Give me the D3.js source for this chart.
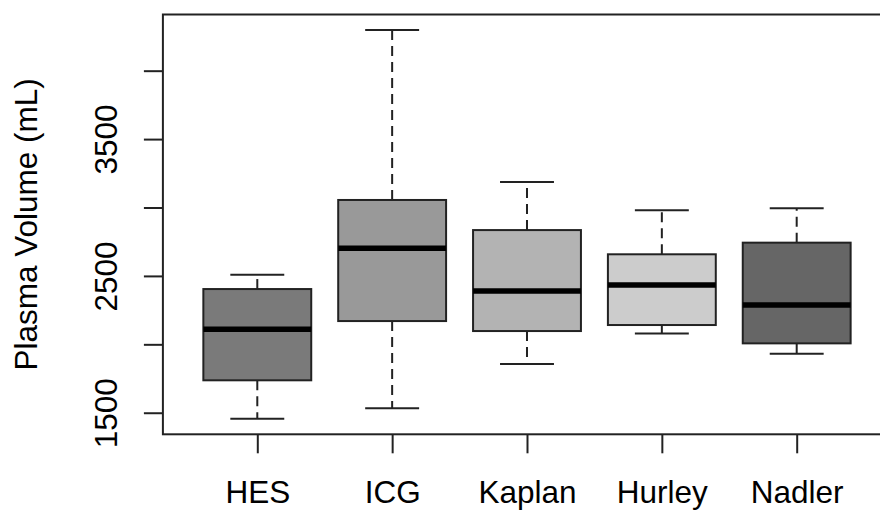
<!DOCTYPE html>
<html>
<head>
<meta charset="utf-8">
<script src="https://cdn.jsdelivr.net/npm/d3@7"></script>
<style>
  body { margin: 0; background: #fff; }
  text { font-family: "Liberation Sans", Arial, sans-serif; fill: #000; }
</style>
</head>
<body>
<div id="draw_here"></div>
<script>
    // data
    groups = ["HES", "ICG", "Kaplan", "Hurley", "Nadler"]
    lower  = [1456, 1532, 1856, 2080, 1931]
    q1     = [1737, 2170, 2097, 2141, 2007]
    median = [2110, 2702, 2390, 2433, 2287]
    q3     = [2404, 3055, 2835, 2658, 2743]
    upper  = [2509, 4297, 3186, 2980, 2994]
    fills  = ["#7a7a7a", "#999999", "#b3b3b3", "#cccccc", "#666666"]

    yTicks = [1500, 2000, 2500, 3000, 3500, 4000]
    yLabelled = [1500, 2500, 3500]

    canvas = ({width: 880, height: 510})
    fontSize = 31.5

    // R style: extend ranges by 4%
    lo = d3.min(lower), hi = d3.max(upper)
    pad = (hi - lo) * 0.04

    x = d3.scaleLinear()
        .domain([0.3, 5.7])
        .range([162.9, 162.9 + 5.4 * 134.85])

    y = d3.scaleLinear()
        .domain([lo - pad, hi + pad])
        .range([434.3, 14.5])

    var svg = d3.select("div#draw_here").append("svg")
        .attr("width", canvas.width)
        .attr("height", canvas.height)
        .attr("viewBox", [0, 0, canvas.width, canvas.height]);

    boxes = groups.map((g, i) => ({
        name: g, pos: i + 1, lo: lower[i], q1: q1[i], med: median[i], q3: q3[i], hi: upper[i], fill: fills[i]
    }))

    halfBox = 0.4
    halfCap = 0.2

    var b = svg.append("g").selectAll("g").data(boxes).join("g")

    // whiskers
    b.append("line")
        .attr("x1", d => x(d.pos)).attr("x2", d => x(d.pos))
        .attr("y1", d => y(d.q3)).attr("y2", d => y(d.hi))
        .attr("stroke", "#222").attr("stroke-width", 2).attr("stroke-dasharray", "10,6")
    b.append("line")
        .attr("x1", d => x(d.pos)).attr("x2", d => x(d.pos))
        .attr("y1", d => y(d.q1)).attr("y2", d => y(d.lo))
        .attr("stroke", "#222").attr("stroke-width", 2).attr("stroke-dasharray", "10,6")

    // staples
    b.append("line")
        .attr("x1", d => x(d.pos - halfCap)).attr("x2", d => x(d.pos + halfCap))
        .attr("y1", d => y(d.hi)).attr("y2", d => y(d.hi))
        .attr("stroke", "#222").attr("stroke-width", 2)
    b.append("line")
        .attr("x1", d => x(d.pos - halfCap)).attr("x2", d => x(d.pos + halfCap))
        .attr("y1", d => y(d.lo)).attr("y2", d => y(d.lo))
        .attr("stroke", "#222").attr("stroke-width", 2)

    // boxes
    b.append("rect")
        .attr("x", d => x(d.pos - halfBox))
        .attr("width", d => x(d.pos + halfBox) - x(d.pos - halfBox))
        .attr("y", d => y(d.q3))
        .attr("height", d => y(d.q1) - y(d.q3))
        .attr("fill", d => d.fill)
        .attr("stroke", "#222").attr("stroke-width", 2)

    // medians
    b.append("line")
        .attr("x1", d => x(d.pos - halfBox)).attr("x2", d => x(d.pos + halfBox))
        .attr("y1", d => y(d.med)).attr("y2", d => y(d.med))
        .attr("stroke", "#000").attr("stroke-width", 5.5)

    // frame
    svg.append("rect")
        .attr("x", x(0.3)).attr("y", y.range()[1])
        .attr("width", x(5.7) - x(0.3))
        .attr("height", y.range()[0] - y.range()[1])
        .attr("fill", "none")
        .attr("stroke", "#222").attr("stroke-width", 2)

    // y axis
    svg.append("g")
        .attr("transform", `translate(${x(0.3)},0)`)
        .call(d3.axisLeft(y).tickValues(yTicks).tickSize(19).tickSizeOuter(0)
            .tickFormat(d => yLabelled.includes(d) ? d : ""))
        .call(g => g.select(".domain").remove())
        .call(g => g.selectAll(".tick line").attr("stroke", "#222").attr("stroke-width", 2))
        .call(g => g.selectAll("text")
            .attr("transform", "rotate(-90)")
            .attr("x", 0).attr("y", -46.2).attr("dy", null)
            .attr("text-anchor", "middle")
            .attr("font-family", null)
            .style("font-size", fontSize + "px"))

    // x axis
    svg.append("g")
        .attr("transform", `translate(0,${y.range()[0]})`)
        .call(d3.axisBottom(x).tickValues(boxes.map(d => d.pos)).tickSize(19).tickSizeOuter(0)
            .tickFormat((d, i) => groups[i]))
        .call(g => g.select(".domain").remove())
        .call(g => g.selectAll(".tick line").attr("stroke", "#222").attr("stroke-width", 2))
        .call(g => g.selectAll("text")
            .attr("y", 68.7).attr("dy", null)
            .attr("font-family", null)
            .style("font-size", fontSize + "px"))

    // y label
    svg.append("text")
        .attr("transform", `translate(37.3,${(y.range()[0] + y.range()[1]) / 2}) rotate(-90)`)
        .attr("text-anchor", "middle")
        .style("font-size", fontSize + "px")
        .text("Plasma Volume (mL)")
</script>
</body>
</html>
